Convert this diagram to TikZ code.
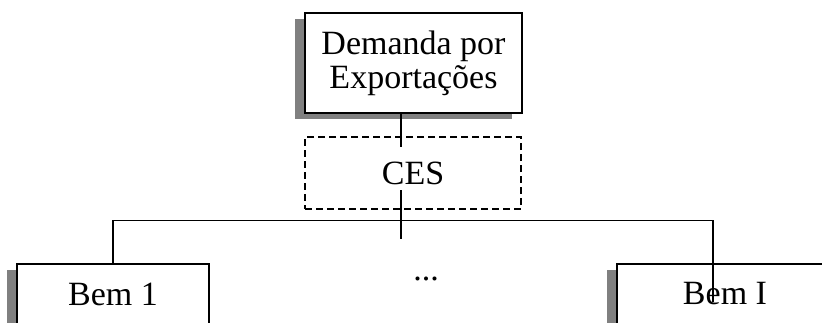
\documentclass[tikz,border=0pt]{standalone}
\usepackage{fontspec}
\setmainfont{Liberation Serif}
\usetikzlibrary{shadows}
\begin{document}
\begin{tikzpicture}[x=1pt, y=-1pt, line width=1.9pt,
  box/.style={draw, fill=white, minimum width=216pt, inner sep=0pt, align=center,
    font=\fontsize{34}{34}\selectfont,
    drop shadow={shadow xshift=-10pt, shadow yshift=-6pt, fill=black!50, opacity=1}},
  cesbox/.style={draw, dash pattern=on 7pt off 4pt, minimum width=216pt, minimum height=72pt,
    inner sep=0pt, font=\fontsize{34}{34}\selectfont}]
\useasboundingbox (0,0) rectangle (822,322);
\clip (0,0) rectangle (822,322);

\node[box, minimum width=217pt, minimum height=100pt] (demanda) at (413.5,63) {Demanda por\\Exportações};
\node[cesbox] (ces) at (413,173) {CES};
\node[box, minimum width=192pt, minimum height=60pt] (bem1) at (113,294) {Bem 1};
\node[box, minimum height=60pt] (bemI) at (725,294) {Bem I};
\node[inner sep=0pt, font=\fontsize{34}{34}\selectfont] (dots) at (426,279) {...};

\coordinate (c1) at (401,147);
\coordinate (c2) at (401,190);
\coordinate (c3) at (401,239);
\coordinate (h1) at (113,220.5);
\coordinate (h2) at (713,220.5);
\coordinate (c4) at (713,302);

\draw (demanda.south -| c1) -- (c1);
\draw (c2) -- (c3);
\draw (bem1.north) -- (h1) -- (h2) -- (c4);
\end{tikzpicture}
\end{document}
